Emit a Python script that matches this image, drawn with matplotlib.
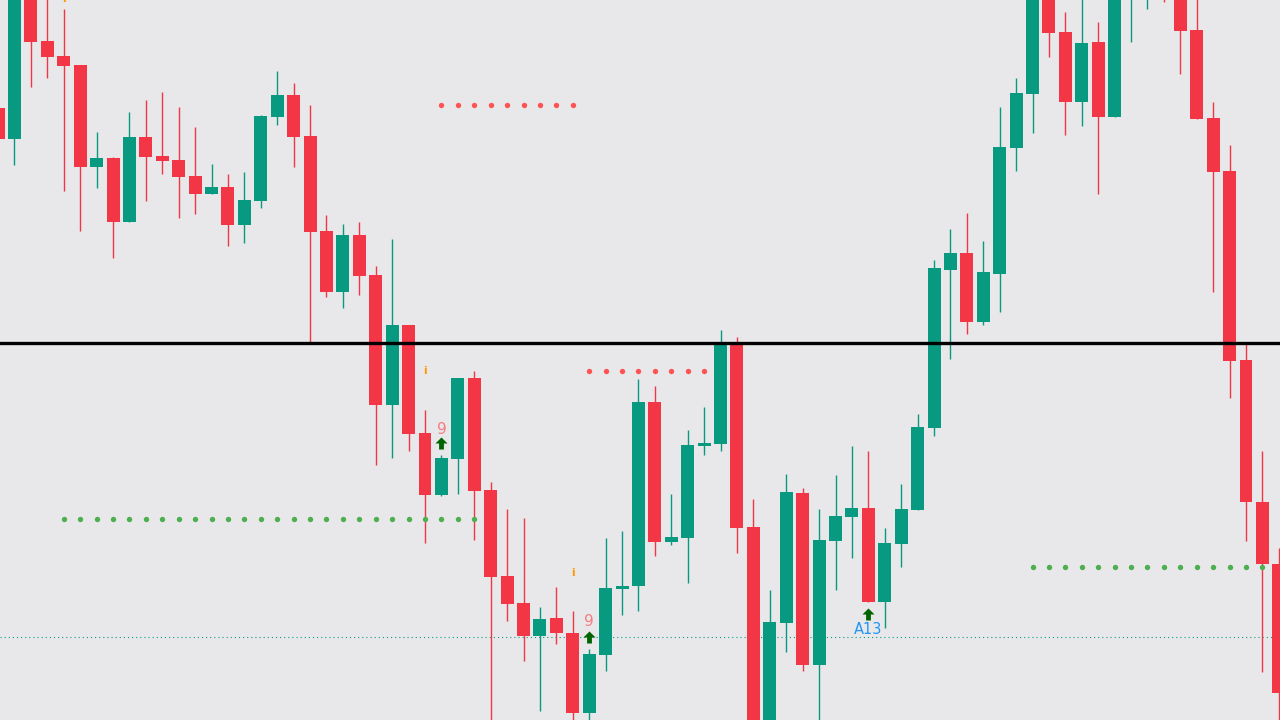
import numpy as np
import matplotlib
matplotlib.use('Agg')
import matplotlib.pyplot as plt
from matplotlib.path import Path

# ---- OHLC (price units)
opens  = [612, 581, 725, 679, 664, 655, 553, 562, 498, 583, 564, 560, 544, 526, 533, 495, 519, 603, 625, 584,
          489, 428, 485, 445, 315, 395, 287, 225, 261, 342, 230, 144, 117, 84, 102, 87, 7, 65, 131, 134,
          318, 178, 182, 274, 276, 377, 193, -20, 97, 227, 55, 179, 203, 212, 118, 176, 210, 292, 450, 467,
          398, 446, 572, 626, 735, 688, 618, 678, 603, 730, 735, 750, 740, 690, 602, 549, 360, 218, 156]
highs  = [625, 745, 740, 730, 711, 655, 588, 563, 608, 620, 628, 613, 593, 556, 546, 548, 605, 649, 637, 615,
          505, 496, 498, 454, 481, 395, 310, 265, 342, 349, 238, 211, 202, 113, 133, 109, 71, 182, 189, 341,
          334, 226, 290, 313, 390, 383, 221, 130, 246, 232, 211, 245, 274, 269, 192, 236, 306, 460, 491, 507,
          479, 613, 642, 740, 745, 708, 730, 698, 750, 760, 765, 765, 750, 730, 618, 575, 377, 269, 172]
lows   = [570, 555, 633, 642, 529, 489, 532, 462, 498, 519, 546, 502, 506, 526, 474, 477, 512, 595, 553, 376,
          423, 412, 425, 255, 262, 269, 177, 224, 226, 180, -10, 99, 59, 9, 76, -5, -5, 49, 105, 109,
          164, 175, 137, 265, 269, 167, -40, -40, 68, 49, -10, 130, 162, 118, 92, 153, 210, 284, 361, 386,
          395, 408, 549, 587, 663, 585, 594, 526, 603, 678, 711, 718, 646, 601, 428, 322, 179, 48, -20]
closes = [581, 735, 678, 663, 654, 553, 562, 498, 583, 563, 559, 543, 526, 533, 495, 520, 604, 625, 583, 488,
          428, 485, 444, 315, 395, 286, 225, 262, 342, 229, 143, 116, 84, 101, 87, 7, 66, 132, 134, 318,
          178, 183, 275, 277, 377, 192, -20, 98, 228, 55, 180, 204, 212, 118, 177, 211, 293, 452, 467, 398,
          448, 573, 627, 730, 687, 618, 677, 603, 740, 750, 755, 730, 689, 601, 548, 359, 218, 156, 27]

# ---- levels / signals
mainLevel = 377
dottedLevel = 83
redLevels = [(27, 35, 615), (36, 43, 349)]
greenLevels = [(4, 29, 201), (63, 77, 153)]
nineBars = [27, 36]
nineText = [291, 98]
nineArrow = [277, 83]
a13Bar = 53
a13Text = 91
a13Arrow = 106
infoBars = [4, 26, 35]
infoY = [721, 349, 147]

upColor = '#089981'
downColor = '#F23645'
bg = '#e8e8ea'

fig = plt.figure(figsize=(12.8, 7.2), dpi=100, facecolor=bg)
ax = fig.add_axes([0, 0, 1, 1], facecolor=bg)

x = np.arange(len(opens))
o = np.array(opens)
c = np.array(closes)
colors = [upColor if cc >= oo else downColor for oo, cc in zip(o, c)]

ax.vlines(x, lows, highs, colors=colors, linewidth=1.0, zorder=2)
bottoms = np.minimum(o, c)
heights = np.maximum(np.abs(c - o), 2)
ax.bar(x, heights, bottom=bottoms, width=0.79, color=colors, linewidth=0, zorder=3)

# ---- horizontal lines
ax.axhline(mainLevel, color='black', linewidth=2.4, zorder=4)
ax.axhline(dottedLevel, color=upColor, linewidth=0.8, linestyle=(0, (1, 2.7)), zorder=1)

for a, b, lvl in redLevels:
    xs = np.arange(a, b + 1)
    ax.scatter(xs, [lvl] * len(xs), s=15, color='#ff5252', linewidths=0, zorder=5)
for a, b, lvl in greenLevels:
    xs = np.arange(a, b + 1)
    ax.scatter(xs, [lvl] * len(xs), s=15, color='#4caf50', linewidths=0, zorder=5)

# ---- signal markers
arrow = Path([(-0.5, 0.0), (0.0, 0.5), (0.5, 0.0), (0.2, 0.0), (0.2, -0.5), (-0.2, -0.5), (-0.2, 0.0), (-0.5, 0.0)],
             [Path.MOVETO] + [Path.LINETO] * 6 + [Path.CLOSEPOLY])
for b, ty, ay in zip(nineBars, nineText, nineArrow):
    ax.scatter([b], [ay], marker=arrow, s=75, color='#006400', linewidths=0, zorder=6)
    ax.text(b, ty, '9', color='#f77c80', fontsize=11, ha='center', va='center', zorder=6)
ax.scatter([a13Bar], [a13Arrow], marker=arrow, s=75, color='#006400', linewidths=0, zorder=6)
ax.text(a13Bar, a13Text, 'A13', color='#2196f3', fontsize=10.5, ha='center', va='center', zorder=6)
for b, yy in zip(infoBars, infoY):
    ax.text(b, yy, 'i', color='#ff9800', fontsize=7.5, fontweight='bold', ha='center', va='center', zorder=6)

ax.set_xlim(0.117, 78.07)
ax.set_ylim(0, 720)
ax.axis('off')

fig.savefig('out.png', dpi=100, facecolor=bg)
